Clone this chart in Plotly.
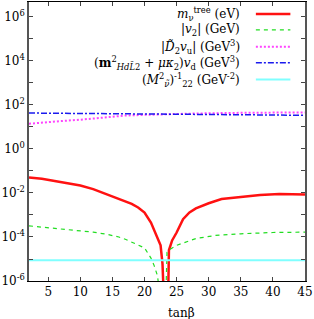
import plotly.graph_objects as go

# ---- data ----
tb_red = [2, 4, 6, 8, 10, 12, 14, 16, 18, 19, 20, 21, 21.5, 22, 22.5, 22.8, 23.0,
          23.3, 23.6, 23.8, 24.3, 25, 26, 27, 28, 30, 32, 35, 38, 41, 43, 45]
m_nu_tree = [0.051, 0.044, 0.035, 0.028, 0.022, 0.015, 0.0089, 0.0052, 0.0032, 0.0022,
             0.0013, 0.00045, 0.0002, 1.0e-4, 4.2e-5, 6e-6, 1e-8,
             1e-9, 1e-8, 2.5e-5, 7e-5, 1.6e-4, 6.5e-4, 0.0013, 0.002, 0.0034, 0.0053,
             0.0066, 0.0080, 0.0089, 0.0089, 0.0085]

tb_green = [2, 4, 6, 8, 10, 12, 14, 16, 17, 18, 19, 20, 21, 21.5, 22, 22.5, 23.0,
            23.2, 23.5, 24, 25, 26.5, 28, 31, 35, 40, 45]
v2_abs = [3.2e-4, 2.8e-4, 2.5e-4, 2.2e-4, 2.0e-4, 1.66e-4, 1.35e-4, 1.0e-4, 7.9e-5,
          6.0e-5, 4.5e-5, 3.2e-5, 1.1e-5, 5e-6, 1.8e-6, 1.6e-7, 1e-9,
          1e-8, 2e-5, 2.8e-5, 4.2e-5, 6e-5, 8.5e-5, 1.17e-4, 1.4e-4, 1.6e-4, 1.66e-4]

tb_mag = [2, 4, 7, 10, 12, 15, 17, 20, 23, 28, 35, 45]
D2vu_abs = [14, 16, 18.6, 21.4, 24, 29, 33, 35.5, 38, 41, 44, 46]

tb_blue = [2, 10, 20, 30, 45]
m2_term = [43, 41, 38.5, 36.5, 34]

tb_cyan = [2, 45]
inv_M2 = [8.7e-6, 8.7e-6]

x_ticks = [5, 10, 15, 20, 25, 30, 35, 40, 45]
y_tick_exps = list(range(-6, 7))

legend_labels = [
    "<i>m</i><sub>ν</sub><sup>tree</sup> (eV)",
    "|<i>v</i><sub>2</sub>| (GeV)",
    "|<i>D̃</i><sub>2</sub><i>v</i><sub>u</sub>| (GeV<sup>3</sup>)",
    "(<b>m</b><sup>2</sup><sub><i>H</i><i>d</i><i>L̃</i>2</sub> + <i>μκ</i><sub>2</sub>)<i>v</i><sub>d</sub> (GeV<sup>3</sup>)",
    "(<i>M</i><sup>2</sup><sub><i>ν̃</i></sub>)<sup>-1</sup><sub>22</sub> (GeV<sup>-2</sup>)",
]

FONT = "DejaVu Serif"
styles = [
    dict(color="#ff1111", width=2.5, dash="solid"),
    dict(color="#22dd22", width=1.2, dash="4px,4px"),
    dict(color="#ff44ff", width=2, dash="2px,2px"),
    dict(color="#1a1aee", width=1.5, dash="6px,2px,2px,2px"),
    dict(color="#80ffff", width=2, dash="solid"),
]
series = [(tb_red, m_nu_tree), (tb_green, v2_abs), (tb_mag, D2vu_abs),
          (tb_blue, m2_term), (tb_cyan, inv_M2)]

fig = go.Figure()
for (xs, ys), st in zip(series, styles):
    fig.add_trace(go.Scatter(x=xs, y=ys, mode="lines", line=st, showlegend=False))

# legend drawn by hand (text right-aligned, sample line on the right)
leg_y = [0.957, 0.900, 0.840, 0.782, 0.722]
for lab, st, yy in zip(legend_labels, styles, leg_y):
    fig.add_annotation(x=0.77, y=yy, xref="paper", yref="paper", text=lab,
                       showarrow=False, xanchor="right", yanchor="middle",
                       font=dict(family=FONT, size=12, color="black"))
    fig.add_shape(type="line", xref="paper", yref="paper", x0=0.822, x1=0.947,
                  y0=yy, y1=yy, line=st)

fig.add_annotation(x=0.552, y=-0.114, xref="paper", yref="paper", text="tanβ",
                   showarrow=False, xanchor="center", yanchor="middle",
                   font=dict(family=FONT, size=12, color="black"))

ytext = [("10<sup>%d</sup>" % e) if e % 2 == 0 else " " for e in y_tick_exps]
fig.update_layout(
    width=314, height=319,
    margin=dict(l=27, r=6, t=1, b=38),
    paper_bgcolor="white", plot_bgcolor="white",
    font=dict(family=FONT, size=12, color="black"),
    xaxis=dict(range=[2, 45], tickvals=x_ticks, ticks="inside", ticklen=4,
               showline=True, linecolor="black", linewidth=1, mirror="ticks",
               showgrid=False, zeroline=False, ticklabeloverflow="allow",
               tickfont=dict(family=FONT, size=12)),
    yaxis=dict(type="log", range=[-6, 6.68],
               tickvals=[10.0 ** e for e in y_tick_exps], ticktext=ytext,
               ticks="inside", ticklen=4, showline=True, linecolor="#555555",
               linewidth=1.5, mirror="ticks", showgrid=False, zeroline=False,
               tickfont=dict(family=FONT, size=12)),
)

fig.write_html("out.html", config={"displayModeBar": False},
               post_script="document.body.style.margin='0';")
